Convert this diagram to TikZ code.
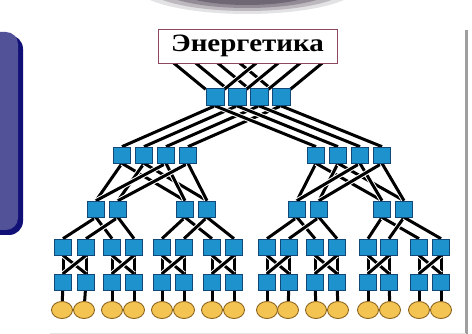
\documentclass[tikz,border=0pt]{standalone}
\usepackage{fontspec}
\usepackage{graphicx}
\usepackage{tikz}
\usetikzlibrary{shapes.geometric}
\newfontfamily\titlefont{Liberation Serif}
\pgfdeclarelayer{bg}
\pgfsetlayers{bg,main}
\definecolor{switchblue}{RGB}{30,146,204}
\definecolor{switchline}{RGB}{18,72,120}
\definecolor{hostfill}{RGB}{244,196,82}
\definecolor{hostline}{RGB}{140,100,30}
\definecolor{panelfill}{RGB}{82,82,152}
\definecolor{panelline}{RGB}{16,16,118}
\definecolor{titleline}{RGB}{140,72,92}
\definecolor{haze}{RGB}{70,58,76}
\tikzset{
    sw/.style={rectangle, draw=switchline, fill=switchblue, line width=0.7pt,
        minimum width=17pt, minimum height=16pt, inner sep=0pt},
    core/.style={sw, minimum width=18pt, minimum height=17pt},
    host/.style={ellipse, draw=hostline, fill=hostfill, line width=0.9pt,
        minimum width=21pt, minimum height=17pt, inner sep=0pt},
    titlebox/.style={rectangle, draw=titleline, fill=white, line width=0.8pt,
        minimum width=179pt, minimum height=34pt, inner sep=0pt}
}

\begin{document}
\begin{tikzpicture}[x=1pt, y=-1pt,
    every edge/.style={draw, line width=3pt, preaction={draw=white, line width=5pt}}]
    \useasboundingbox (0,0) rectangle (472,334);

    % frame of the slide
    \fill[haze, opacity=0.15] (247,-14) ellipse [x radius=112, y radius=28];
    \fill[haze, opacity=0.25] (247,-14) ellipse [x radius=102, y radius=25];
    \fill[haze, opacity=0.35] (247,-14) ellipse [x radius=90, y radius=22];
    \fill[haze, opacity=0.45] (247,-14) ellipse [x radius=76, y radius=19];
    \fill[panelline, rounded corners=14pt] (-20,35) rectangle (23,235);
    \fill[panelfill, rounded corners=12pt] (-20,32) rectangle (18,230);
    \draw[gray!75, line width=3pt] (466,30) -- (466,334);
    \draw[gray!20, line width=0.8pt] (50,333) -- (466,333);

    \node[titlebox] (en) at (247.5, 46) {\titlefont\bfseries\fontsize{25}{27}\selectfont\scalebox{1.16}[1]{Энергетика}};
    \coordinate (tl1) at (170, 60);
    \coordinate (tl2) at (192, 60);
    \coordinate (tl3) at (214, 60);
    \coordinate (tl4) at (236, 60);
    \coordinate (tr1) at (260, 60);
    \coordinate (tr2) at (282, 60);
    \coordinate (tr3) at (304, 60);
    \coordinate (tr4) at (326, 60);

    \node[core] (k1) at (215, 97) {};
    \node[core] (k2) at (237, 97) {};
    \node[core] (k3) at (259, 97) {};
    \node[core] (k4) at (281, 97) {};

    \node[sw] (a1) at (122, 155) {};
    \node[sw] (a2) at (144, 155) {};
    \node[sw] (a3) at (166, 155) {};
    \node[sw] (a4) at (188, 155) {};
    \node[sw] (a5) at (316, 155) {};
    \node[sw] (a6) at (338, 155) {};
    \node[sw] (a7) at (360, 155) {};
    \node[sw] (a8) at (382, 155) {};

    \node[sw] (e1) at (96, 209) {};
    \node[sw] (e2) at (118, 209) {};
    \node[sw] (e3) at (185, 209) {};
    \node[sw] (e4) at (207, 209) {};
    \node[sw] (e5) at (297, 209) {};
    \node[sw] (e6) at (319, 209) {};
    \node[sw] (e7) at (382, 209) {};
    \node[sw] (e8) at (404, 209) {};

    \node[sw] (p1) at (63, 247) {};
    \node[sw] (p2) at (86, 247) {};
    \node[sw] (p3) at (112, 247) {};
    \node[sw] (p4) at (134, 247) {};
    \node[sw] (p5) at (162, 247) {};
    \node[sw] (p6) at (184, 247) {};
    \node[sw] (p7) at (212, 247) {};
    \node[sw] (p8) at (234, 247) {};
    \node[sw] (p9) at (267, 247) {};
    \node[sw] (p10) at (289, 247) {};
    \node[sw] (p11) at (315, 247) {};
    \node[sw] (p12) at (337, 247) {};
    \node[sw] (p13) at (368, 247) {};
    \node[sw] (p14) at (389, 247) {};
    \node[sw] (p15) at (419, 247) {};
    \node[sw] (p16) at (441, 247) {};

    \node[sw] (q1) at (63, 282) {};
    \node[sw] (q2) at (86, 282) {};
    \node[sw] (q3) at (112, 282) {};
    \node[sw] (q4) at (134, 282) {};
    \node[sw] (q5) at (162, 282) {};
    \node[sw] (q6) at (184, 282) {};
    \node[sw] (q7) at (212, 282) {};
    \node[sw] (q8) at (234, 282) {};
    \node[sw] (q9) at (267, 282) {};
    \node[sw] (q10) at (289, 282) {};
    \node[sw] (q11) at (315, 282) {};
    \node[sw] (q12) at (337, 282) {};
    \node[sw] (q13) at (368, 282) {};
    \node[sw] (q14) at (389, 282) {};
    \node[sw] (q15) at (419, 282) {};
    \node[sw] (q16) at (441, 282) {};

    \node[host] (o1) at (62, 310) {};
    \node[host] (o2) at (84, 310) {};
    \node[host] (o3) at (112, 310) {};
    \node[host] (o4) at (134, 310) {};
    \node[host] (o5) at (162, 310) {};
    \node[host] (o6) at (184, 310) {};
    \node[host] (o7) at (212, 310) {};
    \node[host] (o8) at (234, 310) {};
    \node[host] (o9) at (267, 310) {};
    \node[host] (o10) at (288, 310) {};
    \node[host] (o11) at (316, 310) {};
    \node[host] (o12) at (338, 310) {};
    \node[host] (o13) at (368, 310) {};
    \node[host] (o14) at (390, 310) {};
    \node[host] (o15) at (419, 310) {};
    \node[host] (o16) at (441, 310) {};

    \begin{pgfonlayer}{bg}
        \draw (tl1) edge (k1);
        \draw (tl2) edge (k2);
        \draw (tl3) edge (k3);
        \draw (tl4) edge (k4);
        \draw (tr1) edge (k1);
        \draw (tr2) edge (k2);
        \draw (tr3) edge (k3);
        \draw (tr4) edge (k4);

        \draw (k1.south) edge (a1.north);
        \draw (k2.south) edge (a2.north);
        \draw (k3.south) edge (a3.north);
        \draw (k4.south) edge (a4.north);
        \draw (k1.south) edge (a5.north);
        \draw (k2.south) edge (a6.north);
        \draw (k3.south) edge (a7.north);
        \draw (k4.south) edge (a8.north);

        \draw (a1.south) edge (e1.north);
        \draw (a1.south) edge (e3.north);
        \draw (a2.south) edge (e2.north);
        \draw (a2.south) edge (e4.north);
        \draw (a3.south) edge (e1.north);
        \draw (a3.south) edge (e3.north);
        \draw (a4.south) edge (e2.north);
        \draw (a4.south) edge (e4.north);
        \draw (a5.south) edge (e5.north);
        \draw (a5.south) edge (e7.north);
        \draw (a6.south) edge (e6.north);
        \draw (a6.south) edge (e8.north);
        \draw (a7.south) edge (e5.north);
        \draw (a7.south) edge (e7.north);
        \draw (a8.south) edge (e6.north);
        \draw (a8.south) edge (e8.north);

        \draw (e1.south) edge (p1.north);
        \draw (e1.south) edge (p3.north);
        \draw (e2.south) edge (p2.north);
        \draw (e2.south) edge (p4.north);
        \draw (e3.south) edge (p5.north);
        \draw (e3.south) edge (p7.north);
        \draw (e4.south) edge (p6.north);
        \draw (e4.south) edge (p8.north);
        \draw (e5.south) edge (p9.north);
        \draw (e5.south) edge (p11.north);
        \draw (e6.south) edge (p10.north);
        \draw (e6.south) edge (p12.north);
        \draw (e7.south) edge (p13.north);
        \draw (e7.south) edge (p15.north);
        \draw (e8.south) edge (p14.north);
        \draw (e8.south) edge (p16.north);

        \draw (p1.south) edge (q1.north);
        \draw (p2.south) edge (q2.north);
        \draw (p1.south) edge (q2.north);
        \draw (p2.south) edge (q1.north);
        \draw (p3.south) edge (q3.north);
        \draw (p4.south) edge (q4.north);
        \draw (p3.south) edge (q4.north);
        \draw (p4.south) edge (q3.north);
        \draw (p5.south) edge (q5.north);
        \draw (p6.south) edge (q6.north);
        \draw (p5.south) edge (q6.north);
        \draw (p6.south) edge (q5.north);
        \draw (p7.south) edge (q7.north);
        \draw (p8.south) edge (q8.north);
        \draw (p7.south) edge (q8.north);
        \draw (p8.south) edge (q7.north);
        \draw (p9.south) edge (q9.north);
        \draw (p10.south) edge (q10.north);
        \draw (p9.south) edge (q10.north);
        \draw (p10.south) edge (q9.north);
        \draw (p11.south) edge (q11.north);
        \draw (p12.south) edge (q12.north);
        \draw (p11.south) edge (q12.north);
        \draw (p12.south) edge (q11.north);
        \draw (p13.south) edge (q13.north);
        \draw (p14.south) edge (q14.north);
        \draw (p13.south) edge (q14.north);
        \draw (p14.south) edge (q13.north);
        \draw (p15.south) edge (q15.north);
        \draw (p16.south) edge (q16.north);
        \draw (p15.south) edge (q16.north);
        \draw (p16.south) edge (q15.north);

        \draw (q1) edge (o1);
        \draw (q2) edge (o2);
        \draw (q3) edge (o3);
        \draw (q4) edge (o4);
        \draw (q5) edge (o5);
        \draw (q6) edge (o6);
        \draw (q7) edge (o7);
        \draw (q8) edge (o8);
        \draw (q9) edge (o9);
        \draw (q10) edge (o10);
        \draw (q11) edge (o11);
        \draw (q12) edge (o12);
        \draw (q13) edge (o13);
        \draw (q14) edge (o14);
        \draw (q15) edge (o15);
        \draw (q16) edge (o16);
    \end{pgfonlayer}
\end{tikzpicture}
\end{document}
